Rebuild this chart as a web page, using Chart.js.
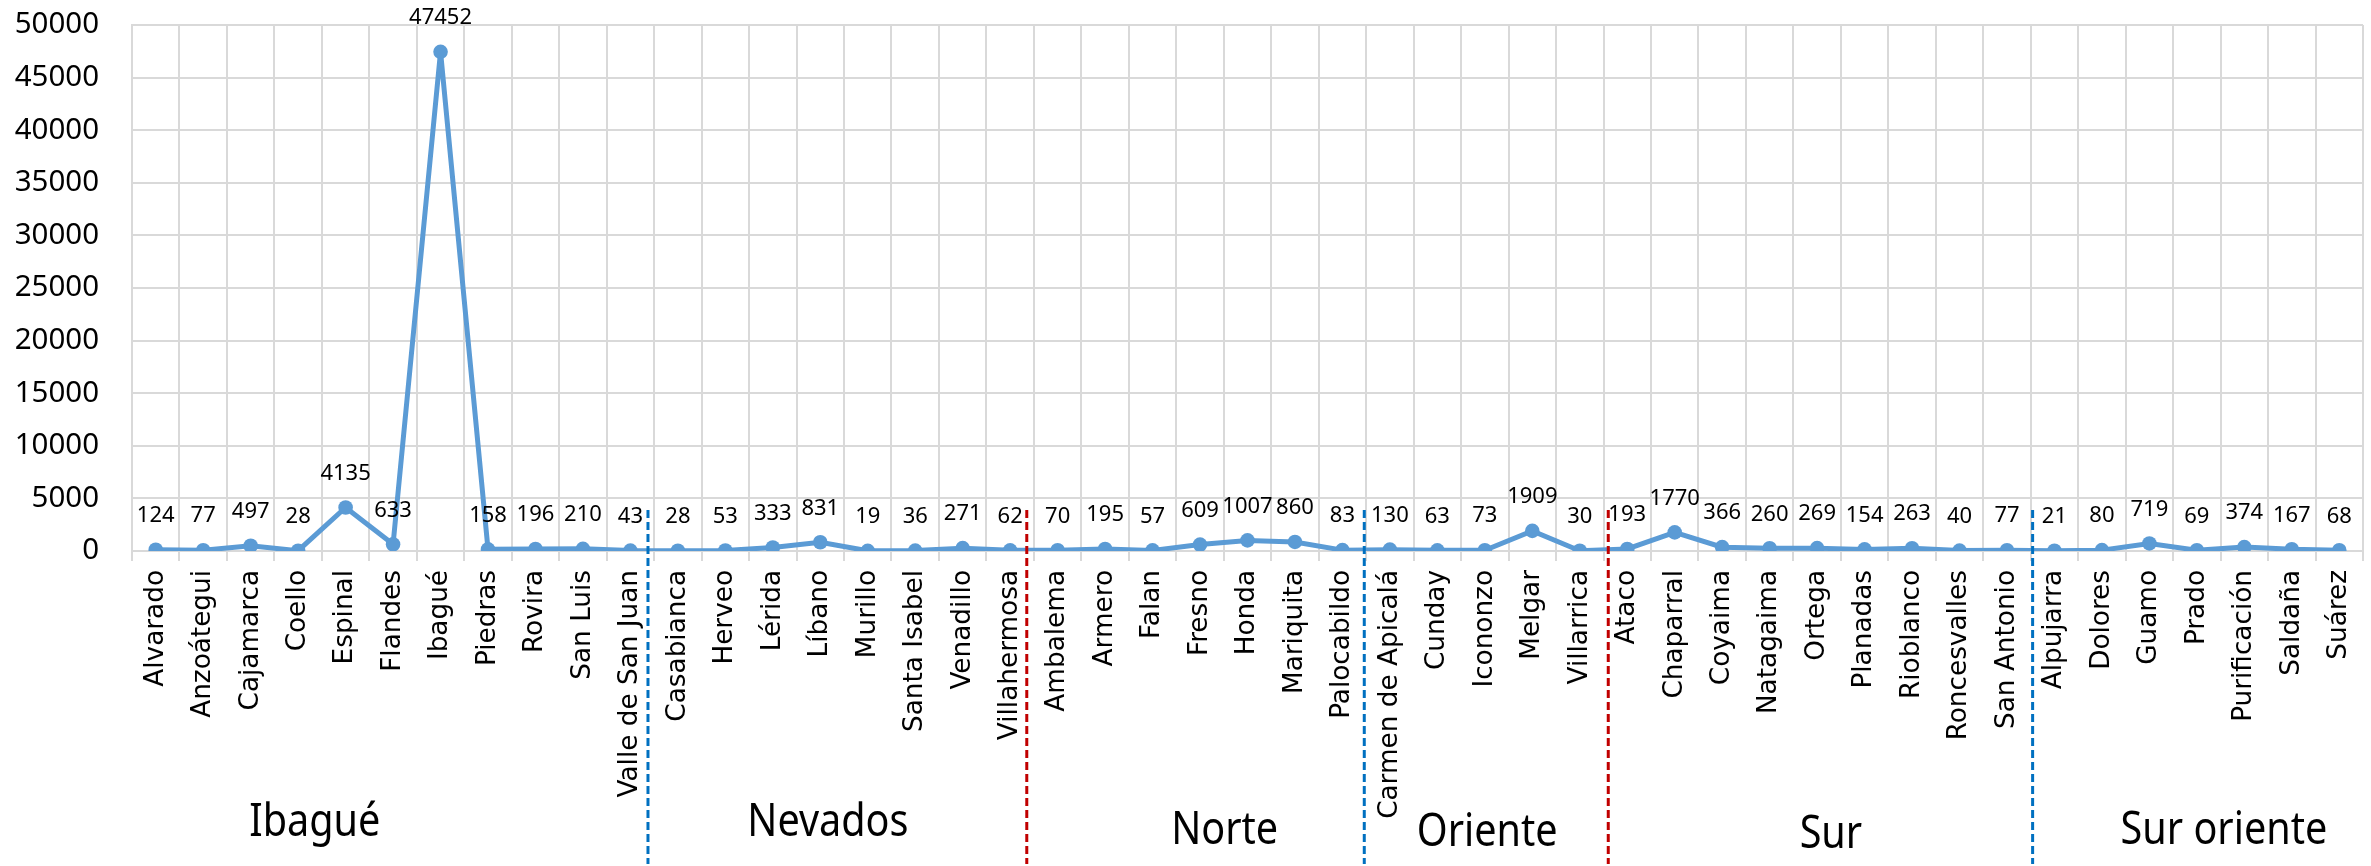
<!DOCTYPE html>
<html>
<head>
<meta charset="utf-8">
<script src="https://cdn.jsdelivr.net/npm/chart.js@4/dist/chart.umd.min.js"></script>
<style>
  html, body { margin: 0; padding: 0; background: #fff; }
  #wrap { width: 2371px; height: 866px; }
</style>
</head>
<body>
<div id="wrap"><canvas id="plot" width="2371" height="866"></canvas></div>
<script>
// municipios, in chart order
const municipios = [
  'Alvarado', 'Anzoátegui', 'Cajamarca', 'Coello', 'Espinal', 'Flandes', 'Ibagué', 'Piedras', 'Rovira', 'San Luis', 'Valle de San Juan',
  'Casabianca', 'Herveo', 'Lérida', 'Líbano', 'Murillo', 'Santa Isabel', 'Venadillo', 'Villahermosa',
  'Ambalema', 'Armero', 'Falan', 'Fresno', 'Honda', 'Mariquita', 'Palocabildo',
  'Carmen de Apicalá', 'Cunday', 'Icononzo', 'Melgar', 'Villarrica',
  'Ataco', 'Chaparral', 'Coyaima', 'Natagaima', 'Ortega', 'Planadas', 'Rioblanco', 'Roncesvalles', 'San Antonio',
  'Alpujarra', 'Dolores', 'Guamo', 'Prado', 'Purificación', 'Saldaña', 'Suárez'
];

const valores = [
  124, 77, 497, 28, 4135, 633, 47452, 158, 196, 210, 43,
  28, 53, 333, 831, 19, 36, 271, 62,
  70, 195, 57, 609, 1007, 860, 83,
  130, 63, 73, 1909, 30,
  193, 1770, 366, 260, 269, 154, 263, 40, 77,
  21, 80, 719, 69, 374, 167, 68
];

// zones and how many municipios each one holds
const zonas = ['Ibagué', 'Nevados', 'Norte', 'Oriente', 'Sur', 'Sur oriente'];
const zonaCount = [11, 8, 7, 5, 9, 7];

const yTicks = [0, 5000, 10000, 15000, 20000, 25000, 30000, 35000, 40000, 45000, 50000];

// layout bits (in category units) for the zone labels and the dashed separators
const zonaLabelAt = [3.35, 14.16, 22.52, 28.05, 35.29, 43.57];
const zonaLabelY = [836, 836, 844, 846, 848, 844];
const sepShift = [-0.13, -0.15, -0.04, 0.1, 0.04];
const sepColors = ['#0070c0', '#c00000', '#0070c0', '#c00000', '#0070c0'];

const FONT = "'Noto Sans', 'Open Sans', sans-serif";
const CAT_FONT = "'DejaVu Sans', Verdana, sans-serif";

// draws the value above every point
const valueLabels = {
  id: 'valueLabels',
  afterDatasetsDraw(chart) {
    const ctx = chart.ctx;
    const meta = chart.getDatasetMeta(0);
    ctx.save();
    ctx.font = '22px ' + FONT;
    ctx.fillStyle = '#000';
    ctx.textAlign = 'center';
    ctx.textBaseline = 'middle';
    meta.data.forEach((pt, i) => {
      ctx.fillText(String(valores[i]), pt.x, pt.y - 34);
    });
    ctx.restore();
  }
};

// zone separators + zone names under the axis
const zonasPlugin = {
  id: 'zonas',
  afterDraw(chart) {
    const ctx = chart.ctx;
    const x = chart.scales.x;
    ctx.save();
    let idx = 0;
    for (let i = 0; i < zonaCount.length - 1; i++) {
      idx += zonaCount[i];
      const px = x.getPixelForValue(idx - 0.5 + sepShift[i]);
      ctx.strokeStyle = sepColors[i];
      ctx.lineWidth = 3;
      ctx.setLineDash([8, 4]);
      ctx.beginPath();
      ctx.moveTo(px, 510);
      ctx.lineTo(px, 864);
      ctx.stroke();
    }
    ctx.setLineDash([]);
    ctx.font = '46px ' + FONT;
    ctx.fillStyle = '#000';
    ctx.textAlign = 'center';
    ctx.textBaseline = 'alphabetic';
    zonas.forEach((z, i) => {
      // the zone titles are a narrow face, so squeeze a bit
      ctx.save();
      ctx.translate(x.getPixelForValue(zonaLabelAt[i]), zonaLabelY[i]);
      ctx.scale(0.86, 1);
      ctx.fillText(z, 0, 0);
      ctx.restore();
    });
    ctx.restore();
  }
};

const chart = new Chart(document.getElementById('plot'), {
  type: 'line',
  data: {
    labels: municipios,
    datasets: [{
      data: valores,
      borderColor: '#5b9bd5',
      backgroundColor: '#5b9bd5',
      borderWidth: 5,
      pointRadius: 7.3,
      pointBorderWidth: 0,
      pointBackgroundColor: '#5b9bd5',
      tension: 0
    }]
  },
  options: {
    responsive: false,
    animation: false,
    devicePixelRatio: 1,
    layout: { padding: { top: 25, right: 8, left: 0, bottom: 0 } },
    plugins: {
      legend: { display: false },
      tooltip: { enabled: false }
    },
    scales: {
      x: {
        offset: true,
        grid: { offset: true, color: '#d9d9d9', lineWidth: 2, tickLength: 10, drawTicks: true },
        border: { color: '#d9d9d9', width: 2 },
        ticks: {
          autoSkip: false,
          maxRotation: 90,
          minRotation: 90,
          padding: 9,
          color: '#000',
          font: { family: CAT_FONT, size: 26.3 }
        },
        afterFit(s) { s.height = 315; s.paddingLeft = 0; s.paddingRight = 0; }
      },
      y: {
        min: 0,
        max: 50000,
        afterBuildTicks(s) { s.ticks = yTicks.map(v => ({ value: v })); },
        grid: { color: '#d9d9d9', lineWidth: 2, drawTicks: false },
        border: { color: '#d9d9d9', width: 2 },
        ticks: {
          padding: 33,
          color: '#000',
          font: { family: FONT, size: 29.5 },
          callback: v => String(v)
        },
        afterFit(s) { s.width = 132; s.paddingTop = 0; s.paddingBottom = 0; }
      }
    }
  },
  plugins: [valueLabels, zonasPlugin]
});
</script>
</body>
</html>
